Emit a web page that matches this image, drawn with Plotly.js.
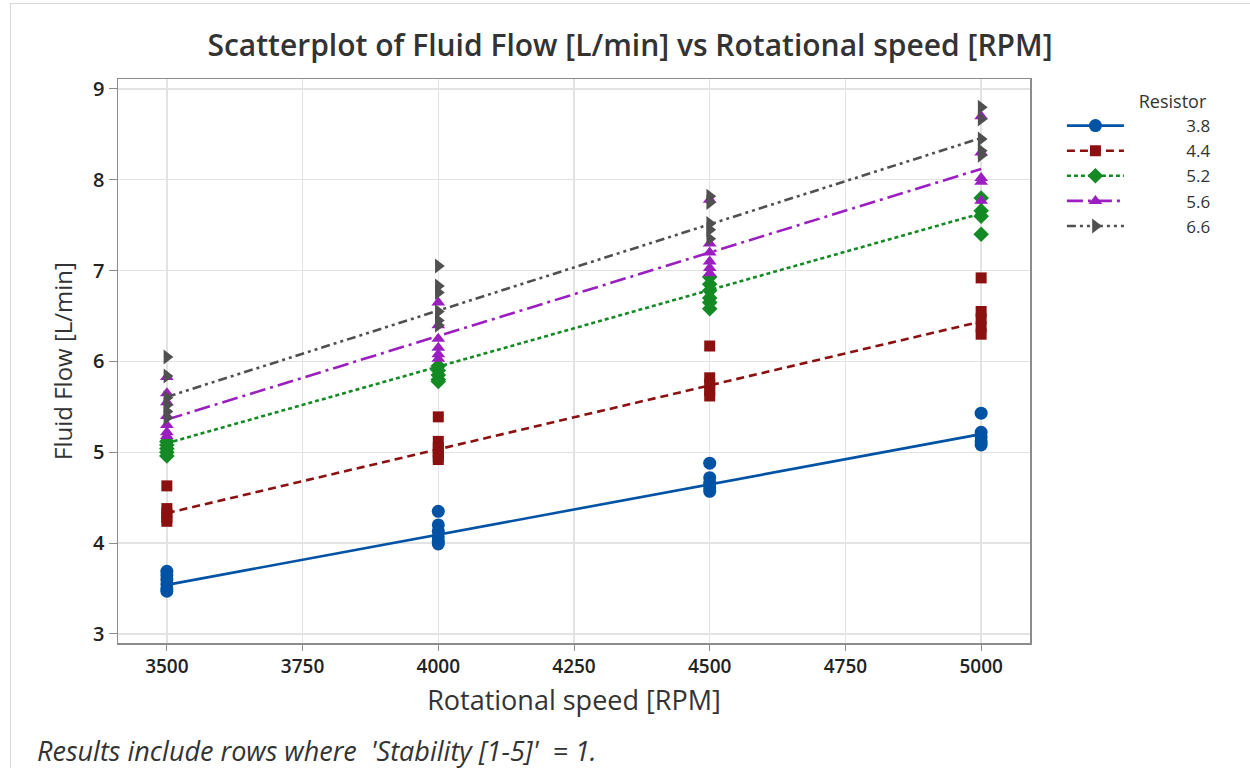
<!DOCTYPE html>
<html>
<head>
<meta charset="utf-8">
<script src="https://cdn.plot.ly/plotly-3.0.1.min.js"></script>
<style>
  html, body { margin: 0; padding: 0; background: #fff; }
  #wrap { position: relative; width: 1250px; height: 768px; }
  #chart { position: absolute; left: 0; top: 0; width: 1250px; height: 768px; }
  #frame { position: absolute; left: 10px; top: 3px; width: 1240px; height: 765px;
           border-left: 1px solid #d9d9d9; border-top: 1px solid #d9d9d9; pointer-events: none; }
</style>
</head>
<body>
<div id="wrap"><div id="chart"></div><div id="frame"></div></div>
<script>
// Rotational speed levels (RPM)
const rpm = [3500, 4000, 4500, 5000];
// Resistor levels
const resistors = ["3.8", "4.4", "5.2", "5.6", "6.6"];

// Observed fluid flow [L/min] per RPM level, for each resistor
const flow38 = [
  [3.47, 3.50, 3.55, 3.60, 3.65, 3.69],
  [4.35, 4.20, 4.13, 4.07, 4.02, 3.99],
  [4.88, 4.72, 4.66, 4.61, 4.57],
  [5.43, 5.22, 5.17, 5.12, 5.08]
];
const flow44 = [
  [4.63, 4.38, 4.33, 4.28, 4.24],
  [5.39, 5.12, 5.05, 5.00, 4.95, 4.92],
  [6.17, 5.82, 5.75, 5.68, 5.62],
  [6.92, 6.55, 6.47, 6.38, 6.30]
];
const flow52 = [
  [5.12, 5.08, 5.04, 5.00, 4.96],
  [5.95, 5.90, 5.85, 5.80, 5.78],
  [6.93, 6.85, 6.78, 6.70, 6.65, 6.58],
  [7.80, 7.66, 7.60, 7.40]
];
const flow56 = [
  [5.83, 5.65, 5.55, 5.40, 5.30, 5.22, 5.18],
  [6.65, 6.40, 6.25, 6.15, 6.08, 6.03],
  [7.78, 7.30, 7.20, 7.10, 7.03, 6.97],
  [8.70, 8.30, 8.02, 7.98, 7.77]
];
const flow66 = [
  [6.05, 5.84, 5.60, 5.52, 5.45, 5.38],
  [7.05, 6.83, 6.76, 6.55, 6.45, 6.40],
  [7.82, 7.75, 7.52, 7.45, 7.35],
  [8.80, 8.67, 8.45, 8.32, 8.27]
];

// Fitted regression line values at 3500 and 5000 RPM
const fitX = [3500, 5000];
const fit38 = [3.54, 5.20];
const fit44 = [4.33, 6.44];
const fit52 = [5.10, 7.63];
const fit56 = [5.36, 8.12];
const fit66 = [5.61, 8.46];

const allFlow = [flow38, flow44, flow52, flow56, flow66];
const allFit = [fit38, fit44, fit52, fit56, fit66];

const colors = ["#0052a5", "#8b1010", "#138a23", "#9b1fc0", "#505050"];
const symbols = ["circle", "square", "diamond", "triangle-up", "triangle-right"];
const msizes = [13, 11, 12, 12, 13];
const dashes = ["solid", "8px,5px", "4px,3px", "16px,5px,3px,5px", "9px,4px,3px,4px,3px,4px"];

const traces = [];
resistors.forEach((r, i) => {
  const xs = [], ys = [];
  allFlow[i].forEach((vals, j) => vals.forEach(v => { xs.push(rpm[j]); ys.push(v); }));
  traces.push({
    x: fitX, y: allFit[i], mode: "lines", type: "scatter",
    line: { color: colors[i], width: 2.6, dash: dashes[i] },
    showlegend: false, hoverinfo: "skip"
  });
  traces.push({
    x: xs, y: ys, mode: "markers", type: "scatter",
    marker: { color: colors[i], symbol: symbols[i], size: msizes[i], line: { width: 0 } },
    showlegend: false
  });
});
// legend entries
const pad = "\u00A0".repeat(13);
resistors.forEach((r, i) => {
  traces.push({
    x: [null], y: [null], mode: "lines+markers", type: "scatter",
    name: pad + r,
    line: { color: colors[i], width: 2.6, dash: dashes[i] },
    marker: { color: colors[i], symbol: symbols[i], size: msizes[i] }
  });
});

const fontFam = "'Open Sans', 'Noto Sans', sans-serif";
const layout = {
  width: 1250, height: 768,
  paper_bgcolor: "#ffffff", plot_bgcolor: "#ffffff",
  margin: { l: 118, r: 220, t: 79, b: 125 },
  font: { family: fontFam, color: "#333" },
  title: {
    text: "Scatterplot of Fluid Flow [L/min] vs Rotational speed [RPM]",
    font: { size: 30, color: "#333", family: fontFam, weight: 600 },
    x: 0.504, xref: "container", xanchor: "center", y: 0.941, yref: "container", yanchor: "middle"
  },
  xaxis: {
    range: [3410, 5090], tickvals: [3500, 3750, 4000, 4250, 4500, 4750, 5000],
    showgrid: true, gridcolor: "#e3e3e3", gridwidth: 1.3,
    showline: true, linecolor: "#8c8c8c", linewidth: 1.5, mirror: true,
    ticks: "outside", ticklen: 6, tickcolor: "#8c8c8c",
    tickfont: { size: 19, color: "#222", weight: 600 },
    zeroline: false,
    title: { text: "Rotational speed [RPM]", font: { size: 27, color: "#333", weight: 500 }, standoff: 13 }
  },
  yaxis: {
    range: [2.9, 9.11], tickvals: [3, 4, 5, 6, 7, 8, 9],
    showgrid: true, gridcolor: "#e3e3e3", gridwidth: 1.3,
    showline: true, linecolor: "#8c8c8c", linewidth: 1.5, mirror: true,
    ticks: "outside", ticklen: 8, tickcolor: "#8c8c8c",
    tickfont: { size: 20, color: "#222", weight: 600 },
    zeroline: false,
    title: { text: "Fluid Flow [L/min]", font: { size: 24, color: "#333", weight: 500 }, standoff: 13 }
  },
  legend: {
    x: 1.035, y: 0.99, xanchor: "left", yanchor: "top",
    title: { text: "\u00A0".repeat(16) + "Resistor", font: { size: 18, color: "#333", weight: 500 } },
    font: { size: 17, color: "#333" },
    tracegroupgap: 0, itemwidth: 57, bgcolor: "rgba(0,0,0,0)"
  },
  annotations: [{
    text: "Results include rows where  'Stability [1-5]'  = 1.",
    xref: "paper", yref: "paper", x: -0.091, y: -0.19, xanchor: "left", yanchor: "middle",
    showarrow: false, font: { size: 27, color: "#333", style: "italic" }
  }]
};

Plotly.newPlot("chart", traces, layout, { displayModeBar: false, staticPlot: true });
</script>
</body>
</html>
